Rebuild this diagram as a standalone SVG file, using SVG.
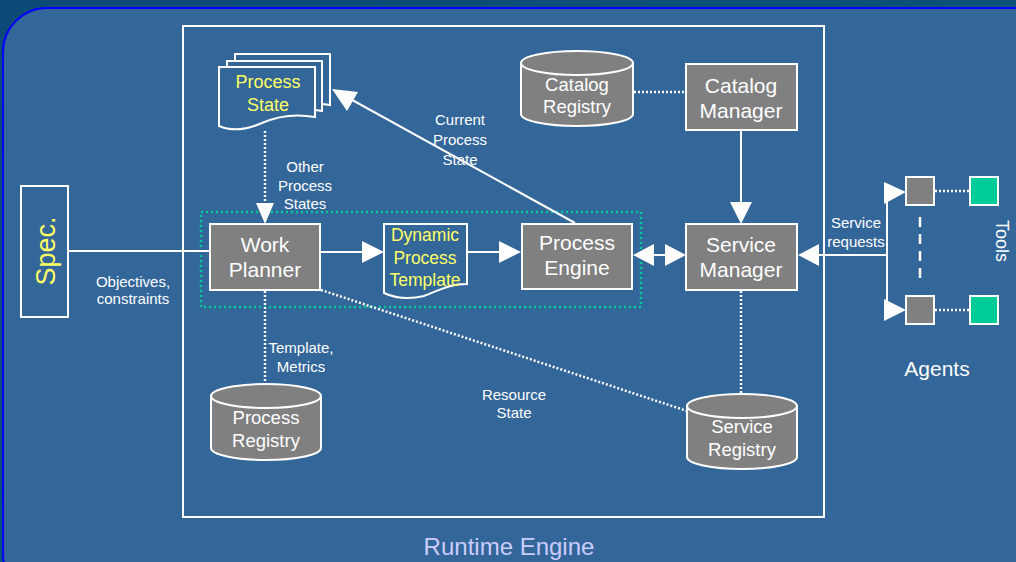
<svg xmlns="http://www.w3.org/2000/svg" width="1016" height="562" viewBox="0 0 1016 562">
  <defs>
    <style>
      text { font-family: "Liberation Sans", Arial, sans-serif; text-anchor: middle; }
      .box { fill: #808080; stroke: #ffffff; stroke-width: 2; }
      .doc { fill: #336699; stroke: #ffffff; stroke-width: 2; }
      .node { fill: #ffffff; font-size: 21px; }
      .reg { fill: #ffffff; font-size: 18.5px; }
      .yel { fill: #ffff66; }
      .lbl { fill: #ffffff; font-size: 15px; }
      .solid { stroke: #ffffff; stroke-width: 2; fill: none; }
      .dot { stroke: #ffffff; stroke-width: 2.5; stroke-dasharray: 2 2; fill: none; }
      .head { fill: #ffffff; }
    </style>
    <linearGradient id="bg" x1="0" y1="0" x2="1" y2="1">
      <stop offset="0" stop-color="#0d4a78"/>
      <stop offset="1" stop-color="#0b5a7a"/>
    </linearGradient>
  </defs>

  <!-- backdrop and runtime panel -->
  <rect width="1016" height="562" fill="url(#bg)"/>
  <rect x="3" y="8" width="1060" height="590" rx="44" fill="#336699" stroke="#0000ff" stroke-width="2"/>
  <rect x="183" y="26" width="641" height="491" fill="none" stroke="#ffffff" stroke-width="2"/>
  <text x="509" y="555" fill="#ccccff" font-size="24">Runtime Engine</text>

  <!-- dynamic planning region -->
  <rect id="planning-region" x="201" y="212" width="440" height="95" fill="none" stroke="#00cc99" stroke-width="2.5" stroke-dasharray="2 3"/>

  <g id="connectors">
    <!-- Spec to Work Planner -->
    <line class="solid" x1="68" y1="251" x2="210" y2="251"/>
    <text class="lbl" x="133" y="287">Objectives,</text>
    <text class="lbl" x="133" y="304">constraints</text>

    <!-- Process State to Work Planner -->
    <line class="dot" x1="265" y1="131" x2="265" y2="204"/>
    <polygon class="head" points="256,203 274,203 265,224"/>
    <text class="lbl" x="305" y="172">Other</text>
    <text class="lbl" x="305" y="191">Process</text>
    <text class="lbl" x="305" y="209">States</text>

    <!-- Work Planner to Dynamic Process Template -->
    <line class="solid" x1="320" y1="252" x2="364" y2="252"/>
    <polygon class="head" points="362,241 362,263 384,252"/>

    <!-- Dynamic Process Template to Process Engine -->
    <line class="solid" x1="467" y1="252" x2="501" y2="252"/>
    <polygon class="head" points="499,241 499,263 521,252"/>

    <!-- Process Engine to Process State -->
    <line class="solid" x1="575" y1="223" x2="345" y2="96"/>
    <polygon class="head" points="332,89 358,92 347,111"/>
    <text class="lbl" x="460" y="125">Current</text>
    <text class="lbl" x="460" y="145">Process</text>
    <text class="lbl" x="460" y="165">State</text>

    <!-- Process Engine and Service Manager -->
    <line class="solid" x1="650" y1="255" x2="668" y2="255"/>
    <polygon class="head" points="633,255 654,244 654,266"/>
    <polygon class="head" points="686,255 665,244 665,266"/>

    <!-- Catalog Registry to Catalog Manager -->
    <line class="dot" x1="634" y1="92" x2="686" y2="92"/>

    <!-- Catalog Manager to Service Manager -->
    <line class="solid" x1="741" y1="130" x2="741" y2="205"/>
    <polygon class="head" points="730,202 752,202 741,224"/>

    <!-- Work Planner to Process Registry -->
    <line class="dot" x1="265" y1="291" x2="265" y2="384"/>
    <text class="lbl" x="301" y="353">Template,</text>
    <text class="lbl" x="301" y="372">Metrics</text>

    <!-- Work Planner to Service Registry -->
    <line class="dot" x1="321" y1="290" x2="687" y2="411"/>
    <text class="lbl" x="514" y="400">Resource</text>
    <text class="lbl" x="514" y="418">State</text>

    <!-- Service Manager to Service Registry -->
    <line class="dot" x1="741" y1="291" x2="741" y2="394"/>

    <!-- service requests from agents -->
    <line class="solid" x1="815" y1="255" x2="887" y2="255"/>
    <polygon class="head" points="798,255 819,244 819,266"/>
    <line class="solid" x1="887" y1="192" x2="887" y2="311"/>
    <line class="solid" x1="887" y1="192" x2="890" y2="192"/>
    <polygon class="head" points="884,182 884,204 906,192"/>
    <line class="solid" x1="887" y1="310" x2="890" y2="310"/>
    <polygon class="head" points="884,299 884,321 906,310"/>
    <text class="lbl" x="856" y="228">Service</text>
    <text class="lbl" x="856" y="247">requests</text>

    <!-- agent to tool links -->
    <line class="dot" x1="935" y1="191" x2="969" y2="191"/>
    <line class="dot" x1="935" y1="310" x2="969" y2="310"/>
    <line stroke="#ffffff" stroke-width="2.5" stroke-dasharray="10 7" x1="920" y1="217" x2="920" y2="281"/>
  </g>

  <g id="spec">
    <rect x="21" y="186" width="47" height="131" fill="#336699" stroke="#ffffff" stroke-width="2"/>
    <text class="yel" font-size="27" transform="translate(55,251) rotate(-90)">Spec.</text>
  </g>

  <g id="process-state">
    <path class="doc" d="M235,54 H330 V105 Q305,100 282,109 T235,113 Z"/>
    <path class="doc" d="M227,61 H322 V111 Q297,106 274,116 T227,119 Z"/>
    <path class="doc" d="M219,67 H315 V117 Q287,112 262,123 T219,126 Z"/>
    <text class="yel" font-size="18" x="268" y="88">Process</text>
    <text class="yel" font-size="18" x="268" y="111">State</text>
  </g>

  <g id="work-planner">
    <rect class="box" x="210" y="224" width="110" height="66"/>
    <text class="node" x="265" y="252">Work</text>
    <text class="node" x="265" y="277">Planner</text>
  </g>

  <g id="dynamic-process-template">
    <path class="doc" d="M384,224 H467 V284 C448,284 438,291 424,296 C408,300 395,298 384,293 Z"/>
    <text class="yel" font-size="17.5" x="425" y="241">Dynamic</text>
    <text class="yel" font-size="17.5" x="425" y="264">Process</text>
    <text class="yel" font-size="17.5" x="425" y="286">Template</text>
  </g>

  <g id="process-engine">
    <rect class="box" x="522" y="224" width="110" height="65"/>
    <text class="node" x="577" y="250">Process</text>
    <text class="node" x="577" y="275">Engine</text>
  </g>

  <g id="catalog-registry">
    <path class="box" d="M521,63 A56,12 0 0 1 633,63 V114 A56,12 0 0 1 521,114 Z"/>
    <path fill="none" stroke="#ffffff" stroke-width="2" d="M521,63 A56,12 0 0 0 633,63"/>
    <text class="reg" x="577" y="91">Catalog</text>
    <text class="reg" x="577" y="113">Registry</text>
  </g>

  <g id="catalog-manager">
    <rect class="box" x="686" y="64" width="111" height="66"/>
    <text class="node" x="741" y="93">Catalog</text>
    <text class="node" x="741" y="118">Manager</text>
  </g>

  <g id="service-manager">
    <rect class="box" x="686" y="224" width="111" height="66"/>
    <text class="node" x="741" y="252">Service</text>
    <text class="node" x="741" y="277">Manager</text>
  </g>

  <g id="process-registry">
    <path class="box" d="M211,396 A55,12 0 0 1 321,396 V448 A55,12 0 0 1 211,448 Z"/>
    <path fill="none" stroke="#ffffff" stroke-width="2" d="M211,396 A55,12 0 0 0 321,396"/>
    <text class="reg" x="266" y="424">Process</text>
    <text class="reg" x="266" y="447">Registry</text>
  </g>

  <g id="service-registry">
    <path class="box" d="M687,406 A55,12 0 0 1 797,406 V457 A55,12 0 0 1 687,457 Z"/>
    <path fill="none" stroke="#ffffff" stroke-width="2" d="M687,406 A55,12 0 0 0 797,406"/>
    <text class="reg" x="742" y="433">Service</text>
    <text class="reg" x="742" y="456">Registry</text>
  </g>

  <g id="agents">
    <rect class="box" x="906" y="177" width="28" height="28"/>
    <rect class="box" x="906" y="296" width="28" height="28"/>
    <text class="node" x="937" y="376">Agents</text>
  </g>

  <g id="tools">
    <rect x="970" y="177" width="28" height="28" fill="#00cc99" stroke="#ffffff" stroke-width="2"/>
    <rect x="970" y="296" width="28" height="28" fill="#00cc99" stroke="#ffffff" stroke-width="2"/>
    <text fill="#ffffff" font-size="18" transform="translate(996,241) rotate(90)">Tools</text>
  </g>
</svg>
